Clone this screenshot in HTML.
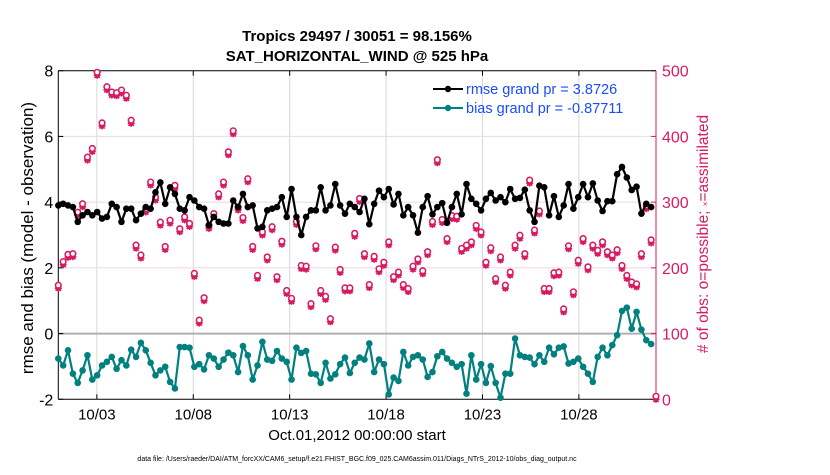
<!DOCTYPE html>
<html><head><meta charset="utf-8"><style>
body{margin:0;background:#fff;}
svg{font-family:"Liberation Sans",sans-serif;}
</style></head><body>
<svg id="chart" width="830" height="470" viewBox="0 0 830 470">
<g id="grid"></g>
<g id="axes"></g>
<g id="marks"></g>
<text x="357" y="41" text-anchor="middle" font-size="15" font-weight="bold">Tropics 29497 / 30051 = 98.156%</text>
<text x="357" y="61" text-anchor="middle" font-size="15" font-weight="bold">SAT_HORIZONTAL_WIND @ 525 hPa</text>
<text transform="translate(33,238) rotate(-90)" text-anchor="middle" font-size="17">rmse and bias (model - observation)</text>
<text transform="translate(708,234) rotate(-90)" text-anchor="middle" font-size="15.5" fill="#d81b60"># of obs: o=possible; <tspan font-size="8">×</tspan>=assimilated</text>
<text x="357" y="440" text-anchor="middle" font-size="15">Oct.01,2012 00:00:00 start</text>
<text x="357" y="461" text-anchor="middle" font-size="7">data file: /Users/raeder/DAI/ATM_forcXX/CAM6_setup/f.e21.FHIST_BGC.f09_025.CAM6assim.011/Diags_NTrS_2012-10/obs_diag_output.nc</text>
<g>
<line x1="433" y1="89" x2="463" y2="89" stroke="#000" stroke-width="2"/><circle cx="448" cy="89" r="3.2" fill="#000"/>
<text x="466" y="94" font-size="14.5" fill="#1a4cff">rmse grand pr = 3.8726</text>
<line x1="433" y1="108" x2="463" y2="108" stroke="#00807f" stroke-width="2"/><circle cx="448" cy="108" r="3.2" fill="#00807f"/>
<text x="466" y="113" font-size="14.5" fill="#1a4cff">bias grand pr = -0.87711</text>
</g>
</svg>
<script>
const rmse = [3.9,3.95,3.9,3.85,3.4,3.6,3.7,3.6,3.7,3.5,3.55,3.95,3.85,3.4,3.8,3.8,3.45,3.65,3.85,3.8,4.3,4.6,3.95,4.45,4.25,3.8,3.75,4.15,4.05,3.85,3.8,3.3,3.55,3.4,3.35,3.35,4.05,3.85,4.25,3.85,3.9,3.2,
3.25,3.75,3.8,3.85,4.15,3.55,4.4,3.55,3.0,3.55,3.75,3.75,4.45,3.75,3.9,4.55,3.9,3.65,3.95,3.85,3.7,4.1,3.33,3.95,4.35,4.15,4.4,3.93,4.25,3.6,3.85,3.6,3.07,3.85,4.18,3.63,3.85,3.97,3.37,3.85,4.25,3.63,4.55,
4.1,3.95,3.75,4.1,4.28,4.05,4.15,4.0,4.4,4.1,4.13,4.38,3.75,3.4,4.5,4.45,3.6,4.18,3.55,3.9,4.55,3.8,4.15,4.55,4.15,4.57,4.05,3.73,4.03,4.03,4.85,5.07,4.75,4.37,4.47,3.65,3.95,3.85,null];
const bias = [-0.76,-0.97,-0.51,-1.22,-1.5,-1.12,-0.66,-1.4,-1.27,-0.97,-0.86,-0.71,-1.07,-0.81,-0.97,-0.49,-0.71,-0.28,-0.51,-0.89,-1.27,-1.12,-1.01,-1.47,-1.67,-0.41,-0.41,-0.43,-1.01,-0.93,-1.09,-0.66,-0.76,-1.01,-0.79,-0.58,-0.66,-1.17,-0.38,-0.66,-1.4,-0.97,
-0.25,-0.79,-0.83,-0.53,-0.76,-0.86,-1.4,-0.43,-0.59,-0.53,-1.22,-1.24,-1.5,-0.89,-1.37,-1.24,-0.93,-0.73,-1.2,-0.89,-0.73,-0.79,-0.3,-1.17,-0.79,-0.93,-1.85,-1.34,-1.44,-0.56,-0.97,-0.71,-0.66,-0.79,-1.32,-1.17,-0.69,-0.56,-0.76,-0.89,-1.01,-0.93,-1.83,
-0.66,-1.4,-0.93,-1.5,-0.99,-1.5,-1.95,-1.22,-1.22,-0.15,-0.66,-0.71,-0.73,-0.93,-0.66,-0.86,-0.43,-0.63,-0.43,-0.39,-0.91,-0.86,-0.76,-1.01,-1.22,-1.47,-0.71,-0.43,-0.66,-0.35,-0.05,0.69,0.79,0.15,0.66,0.12,-0.2,-0.32,null];
const nPossible = [169,205,216,217,280,293,364,377,493,416,471,463,462,466,458,420,230,215,285,326,303,265,228,268,321,255,273,263,187,116,150,260,278,308,326,372,404,288,272,331,228,184,
250,212,258,182,236,161,149,266,199,198,141,229,161,152,118,227,193,165,165,248,301,217,170,213,194,204,235,182,189,170,164,198,209,191,220,266,360,269,240,275,274,225,230,
235,260,250,204,226,179,212,169,189,230,245,217,329,253,282,164,164,188,189,133,229,159,207,240,197,230,222,235,220,215,223,199,184,174,171,217,290,238,0];
const nAssim = [169,205,216,217,280,293,364,377,493,416,471,463,462,466,458,420,230,215,285,326,303,265,228,268,321,255,273,263,187,116,150,260,278,308,326,372,404,288,272,331,228,184,
250,212,258,182,236,161,149,266,199,198,141,229,161,152,118,227,193,165,165,248,301,217,170,213,194,204,235,182,189,170,164,198,209,191,220,266,360,269,240,275,274,225,230,
235,260,250,204,226,179,212,169,189,230,245,217,329,253,282,164,164,188,189,133,229,159,207,240,197,230,222,235,220,215,223,199,184,174,171,217,290,238,0];
const xTickDays = [2,7,12,17,22,27];
const xTickLabels = ["10/03","10/08","10/13","10/18","10/23","10/28"];
const leftTicks = [-2,0,2,4,6,8];
const rightTicks = [0,100,200,300,400,500];

const NS="http://www.w3.org/2000/svg";
const X0=58.3,X1=656,Y0=70.7,Y1=399.3, T0=0,T1=31;
const xS=t=>X0+(t-T0)/(T1-T0)*(X1-X0);
const yL=v=>Y1-(v+2)/10*(Y1-Y0);
const yR=v=>Y1-v/500*(Y1-Y0);
const tOf=i=>i*31/123;
const PINK="#d81b60",TEAL="#00807f";
function mk(tag,attrs,parent){const e=document.createElementNS(NS,tag);for(const k in attrs)e.setAttribute(k,attrs[k]);parent.appendChild(e);return e;}
const grid=document.getElementById('grid'),axes=document.getElementById('axes'),marks=document.getElementById('marks');

xTickDays.forEach((d,k)=>{
  const x=xS(d);
  const g=mk('line',{x1:x,x2:x,y1:Y0,y2:Y1,stroke:'#d8d8d8','stroke-width':1},grid);
  
  
  mk('line',{x1:x,x2:x,y1:Y1,y2:Y1-5,stroke:'#000'},axes);
  mk('line',{x1:x,x2:x,y1:Y0,y2:Y0+5,stroke:'#000'},axes);
  const t=mk('text',{x:x,y:Y1+20,'text-anchor':'middle','font-size':15},axes);
  t.textContent=xTickLabels[k];
  
  
});
[2,4,6].forEach(v=>{
  const g=mk('line',{x1:X0,x2:X1,y1:yL(v),y2:yL(v),stroke:'#f0d8e0','stroke-width':1},grid);
  
  
});
const z=mk('line',{x1:X0,x2:X1,y1:yL(0),y2:yL(0),stroke:'#b0b0b0','stroke-width':2},grid);


leftTicks.forEach(v=>{
  const y=yL(v);
  mk('line',{x1:X0,x2:X0+5,y1:y,y2:y,stroke:'#000'},axes);
  const t=mk('text',{x:X0-5,y:y+6,'text-anchor':'end','font-size':16},axes);
  t.textContent=v;
  
  
});
rightTicks.forEach(v=>{
  const y=yR(v);
  mk('line',{x1:X1,x2:X1-5,y1:y,y2:y,stroke:PINK},axes);
  const t=mk('text',{x:X1+6,y:y+6,'font-size':16,fill:PINK},axes);
  t.textContent=v;
  
  
});
mk('line',{x1:X0,x2:X1,y1:Y0,y2:Y0,stroke:'#000'},axes);
mk('line',{x1:X0,x2:X1,y1:Y1,y2:Y1,stroke:'#000'},axes);
mk('line',{x1:X0,x2:X0,y1:Y0,y2:Y1,stroke:'#000'},axes);
mk('line',{x1:X1,x2:X1,y1:Y0,y2:Y1,stroke:PINK},axes);

nAssim.forEach((v,i)=>{
  const x=xS(tOf(i)),y=yR(v);
  const g=mk('g',{stroke:PINK,'stroke-width':1.6},marks);
  
  
  const r=3.5;
  mk('line',{x1:x-r,x2:x+r,y1:y,y2:y},g);
  mk('line',{x1:x,x2:x,y1:y-r,y2:y+r},g);
  mk('line',{x1:x-r*0.75,x2:x+r*0.75,y1:y-r*0.75,y2:y+r*0.75},g);
  mk('line',{x1:x-r*0.75,x2:x+r*0.75,y1:y+r*0.75,y2:y-r*0.75},g);
  mk('circle',{cx:x,cy:y,r:2,fill:PINK},g);
});
nPossible.forEach((v,i)=>{
  const c=mk('circle',{cx:xS(tOf(i)),cy:yR(v)-3,r:2.8,fill:'#fff',stroke:PINK,'stroke-width':1.6},marks);
  
  
});
function series(arr,color,name){
  let d='';arr.forEach((v,i)=>{if(v==null)return;d+=(d?'L':'M')+xS(tOf(i)).toFixed(1)+','+yL(v).toFixed(1);});
  const p=mk('path',{d:d,fill:'none',stroke:color,'stroke-width':2.2,'stroke-linejoin':'round'},marks);
  
  
  arr.forEach((v,i)=>{if(v==null)return;
    const c=mk('circle',{cx:xS(tOf(i)),cy:yL(v),r:3.3,fill:color},marks);
    
    
  });
}
series(rmse,'#000','rmse');
series(bias,TEAL,'bias');
</script>
</body></html>
